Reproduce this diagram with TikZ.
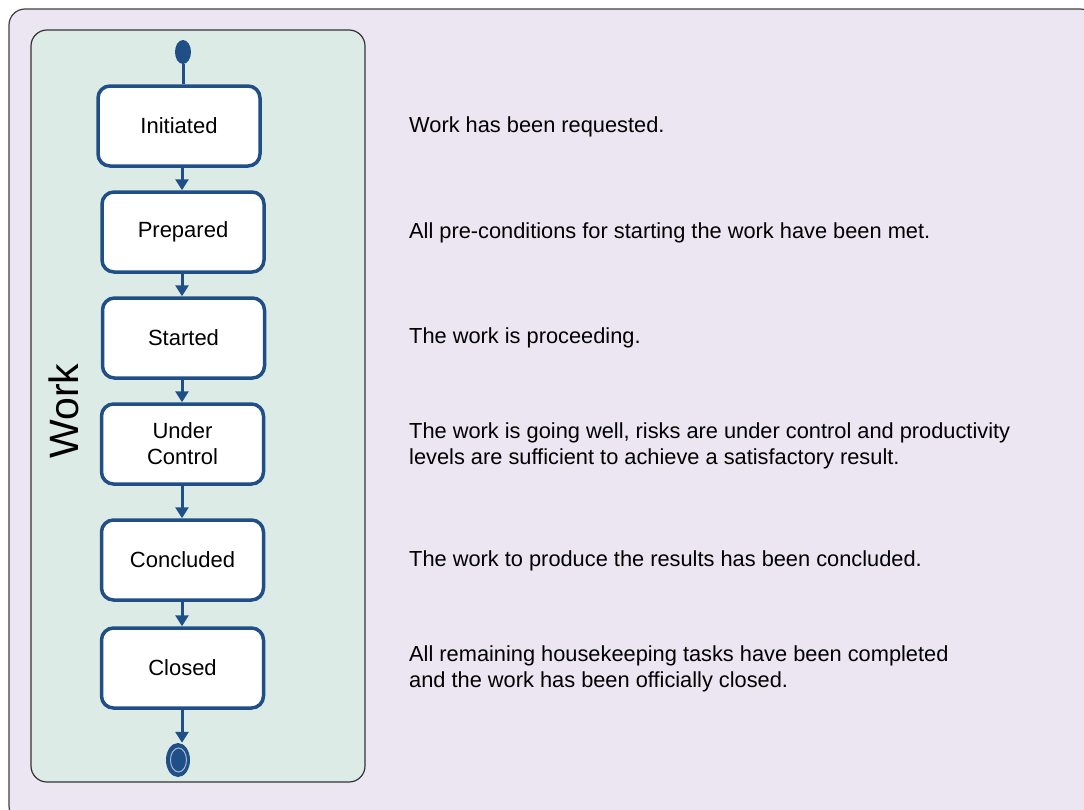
\documentclass[tikz,border=0pt]{standalone}
\usepackage{fontspec}
\setmainfont{Liberation Sans}
\usetikzlibrary{arrows.meta,shapes.geometric}
\definecolor{outerfill}{HTML}{EBE6F1}
\definecolor{innerfill}{HTML}{DDEBE6}
\definecolor{stateblue}{HTML}{1F4F86}
\tikzset{
  statebox/.style={draw=stateblue, line width=3.5pt, fill=white, rounded corners=12pt,
    minimum width=162pt, minimum height=80pt, align=center, font=\fontsize{22}{26}\selectfont, inner sep=0pt},
  flow/.style={draw=stateblue, line width=3pt, -{Triangle[length=11pt,width=13pt]}},
  desc/.style={anchor=west, align=left, font=\fontsize{21.8}{25.5}\selectfont, inner sep=0pt}
}
\begin{document}
\begin{tikzpicture}[x=1pt,y=-1pt]
\useasboundingbox (0,0) rectangle (1084,809);
\draw[draw=black!75, line width=1.2pt, fill=outerfill, rounded corners=16pt] (9,9) rectangle (1096,822);
\draw[draw=black!80, line width=1.2pt, fill=innerfill, rounded corners=16pt] (31,30) rectangle (365,782);
\node[rotate=90, font=\fontsize{41}{41}\selectfont, inner sep=0pt] (work) at (64,411) {Work};
\node[ellipse, fill=stateblue, minimum width=16pt, minimum height=24pt, inner sep=0pt] (start) at (183,52) {};
\node[statebox, minimum width=162pt] (s1) at (179,126) {Initiated};
\node[statebox] (s2) at (183,232) {Prepared};
\node[statebox] (s3) at (183.5,338) {Started};
\node[statebox] (s4) at (182.5,444) {Under\\Control};
\node[statebox] (s5) at (182.5,560) {Concluded};
\node[statebox] (s6) at (182.5,668) {Closed};
\node[ellipse, fill=stateblue, minimum width=24pt, minimum height=34pt, inner sep=0pt] (end) at (178,760) {};
\draw[white!60!stateblue, line width=1pt] (178.5,760) ellipse (8pt and 12pt);
\draw[draw=stateblue, line width=3pt] (start) -- (start |- s1.north);
\draw[flow] (s1.south -| 182,0) -- (182,0 |- s2.north);
\draw[flow] (s2.south -| 182,0) -- (182,0 |- s3.north);
\draw[flow] (s3.south -| 182,0) -- (182,0 |- s4.north);
\draw[flow] (s4.south -| 182,0) -- (182,0 |- s5.north);
\draw[flow] (s5.south -| 182,0) -- (182,0 |- s6.north);
\draw[flow] (s6.south -| 182,0) -- (182,0 |- end.north);
\node[desc] (d1) at (409,127) {Work has been requested.};
\node[desc] (d2) at (409,233) {All pre-conditions for starting the work have been met.};
\node[desc] (d3) at (409,338) {The work is proceeding.};
\node[desc] (d4) at (409,446) {The work is going well, risks are under control and productivity\\levels are sufficient to achieve a satisfactory result.};
\node[desc] (d5) at (409,561) {The work to produce the results has been concluded.};
\node[desc] (d6) at (409,669) {All remaining housekeeping tasks have been completed\\and the work has been officially closed.};
\end{tikzpicture}
\end{document}
